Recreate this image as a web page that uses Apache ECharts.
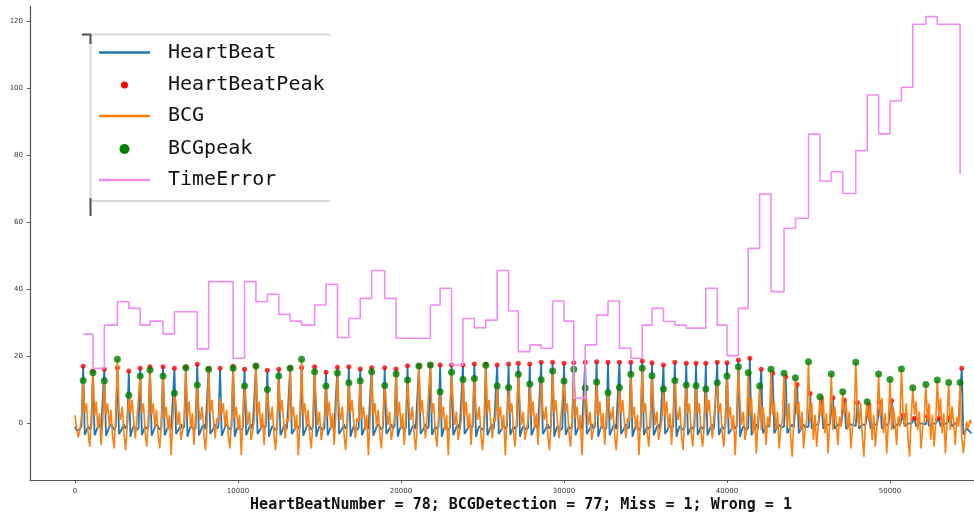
<!DOCTYPE html>
<html>
<head>
<meta charset="utf-8">
<script src="https://cdn.jsdelivr.net/npm/echarts@6/dist/echarts.min.js"></script>
<style>
html, body { margin: 0; padding: 0; background: #fff; }
#chart { width: 974px; height: 515px; }
</style>
</head>
<body>
<div id="chart"></div>
<script>
// Signals are sampled every SAMPLE_STEP units along the x axis, starting at 0.
const SAMPLE_STEP = 100;

const xTicks = [0, 10000, 20000, 30000, 40000, 50000];
const yTicks = [0, 20, 40, 60, 80, 100, 120];

// Reference heartbeat trace (one row per beat, starting at its R peak)
const heartBeat = [
  -1.0, -2.2, -2.6, -1.8, -0.8,
  17.0, -3.5, -2.3, -0.9, -1.7, -1.1,
  15.6, -3.6, -2.4, -1.0, -0.4, -1.8, -1.3,
  16.1, -3.7, -2.5, -1.1, -0.3, -1.0, -1.9, -1.2,
  16.6, -3.2, -2.8, -1.5, -0.2, -1.6, -1.0,
  15.6, -4.0, -2.2, -0.8, -0.9, -2.0, -1.4,
  16.4, -3.5, -2.3, -0.9, -1.7, -1.1,
  16.9, -3.7, -2.5, -1.1, -0.3, -1.0, -1.9, -1.2,
  16.9, -3.6, -2.4, -1.0, -0.4, -1.8, -1.3,
  16.4, -3.2, -2.8, -1.5, -0.2, -1.6, -1.0,
  16.8, -4.0, -2.2, -0.8, -0.9, -2.0, -1.4,
  17.6, -3.6, -2.4, -1.0, -0.4, -1.8, -1.3,
  16.3, -3.2, -2.8, -1.5, -0.2, -1.6, -1.0,
  16.4, -3.7, -2.5, -1.1, -0.3, -1.0, -1.9, -1.2,
  17.0, -4.0, -2.2, -0.8, -0.9, -2.0, -1.4,
  16.1, -3.6, -2.4, -1.0, -0.4, -1.8, -1.3,
  17.0, -3.2, -2.8, -1.5, -0.2, -1.6, -1.0,
  15.8, -4.0, -2.2, -0.8, -0.9, -2.0, -1.4,
  16.1, -3.6, -2.4, -1.0, -0.4, -1.8, -1.3,
  16.6, -3.2, -2.8, -1.5, -0.2, -1.6, -1.0,
  16.6, -3.7, -2.5, -1.1, -0.3, -1.0, -1.9, -1.2,
  16.9, -4.0, -2.2, -0.8, -0.9, -2.0, -1.4,
  15.2, -3.6, -2.4, -1.0, -0.4, -1.8, -1.3,
  16.7, -3.2, -2.8, -1.5, -0.2, -1.6, -1.0,
  16.9, -4.0, -2.2, -0.8, -0.9, -2.0, -1.4,
  16.2, -3.6, -2.4, -1.0, -0.4, -1.8, -1.3,
  16.6, -3.7, -2.5, -1.1, -0.3, -1.0, -1.9, -1.2,
  16.6, -3.2, -2.8, -1.5, -0.2, -1.6, -1.0,
  16.2, -4.0, -2.2, -0.8, -0.9, -2.0, -1.4,
  17.2, -3.6, -2.4, -1.0, -0.4, -1.8, -1.3,
  17.1, -3.2, -2.8, -1.5, -0.2, -1.6, -1.0,
  17.3, -3.5, -2.3, -0.9, -1.7, -1.1,
  17.4, -4.0, -2.2, -0.8, -0.9, -2.0, -1.4,
  17.4, -3.6, -2.4, -1.0, -0.4, -1.8, -1.3,
  17.4, -3.2, -2.8, -1.5, -0.2, -1.6, -1.0,
  17.7, -4.0, -2.2, -0.8, -0.9, -2.0, -1.4,
  17.6, -3.6, -2.4, -1.0, -0.4, -1.8, -1.3,
  17.4, -3.2, -2.8, -1.5, -0.2, -1.6, -1.0,
  17.7, -3.5, -2.3, -0.9, -1.7, -1.1,
  17.9, -4.0, -2.2, -0.8, -0.9, -2.0, -1.4,
  17.7, -3.6, -2.4, -1.0, -0.4, -1.8, -1.3,
  18.2, -3.2, -2.8, -1.5, -0.2, -1.6, -1.0,
  18.2, -4.0, -2.2, -0.8, -0.9, -2.0, -1.4,
  17.9, -3.5, -2.3, -0.9, -1.7, -1.1,
  18.1, -3.6, -2.4, -1.0, -0.4, -1.8, -1.3,
  18.2, -3.2, -2.8, -1.5, -0.2, -1.6, -1.0,
  18.4, -4.0, -2.2, -0.8, -0.9, -2.0, -1.4,
  18.2, -3.6, -2.4, -1.0, -0.4, -1.8, -1.3,
  18.2, -3.2, -2.8, -1.5, -0.2, -1.6, -1.0,
  18.2, -4.0, -2.2, -0.8, -0.9, -2.0, -1.4,
  18.6, -3.5, -2.3, -0.9, -1.7, -1.1,
  18.1, -3.6, -2.4, -1.0, -0.4, -1.8, -1.3,
  17.4, -3.2, -2.8, -1.5, -0.2, -1.6, -1.0,
  18.2, -4.0, -2.2, -0.8, -0.9, -2.0, -1.4,
  17.9, -3.5, -2.3, -0.9, -1.7, -1.1,
  17.9, -3.5, -2.3, -0.9, -1.7, -1.1,
  17.9, -3.6, -2.4, -1.0, -0.4, -1.8, -1.3,
  18.2, -3.5, -2.3, -0.9, -1.7, -1.1,
  18.1, -3.2, -2.8, -1.5, -0.2, -1.6, -1.0,
  18.9, -4.0, -2.2, -0.8, -0.9, -2.0, -1.4,
  19.4, -3.6, -2.4, -1.0, -0.4, -1.8, -1.3,
  16.1, -3.0, -2.0, -1.0, -0.4, -1.2, -1.0,
  15.0, -3.0, -2.0, -1.0, -0.4, -1.2, -0.9, -1.0,
  13.9, -3.0, -2.0, -1.0, -0.4, -1.2, -1.0,
  11.6, -3.0, -2.0, -1.0, -0.4, -1.2, -0.9, -1.0,
  8.9, -1.6, -1.0, -0.3, 0.2, -0.5, -0.8,
  7.4, -1.6, -1.0, -0.3, 0.2, -0.5, -0.8,
  7.6, -1.6, -1.0, -0.3, 0.2, -0.5, -0.8,
  6.9, -1.6, -1.0, -0.3, 0.2, -0.4, -0.7, -0.8,
  6.2, -1.6, -1.0, -0.3, 0.2, -0.5, -0.8,
  5.6, -1.6, -1.0, -0.3, 0.2, -0.5, -0.8,
  6.2, -1.6, -1.0, -0.3, 0.2, -0.5, -0.8,
  6.7, -1.6, -1.0, -0.3, 0.2, -0.5, -0.8,
  2.5, -0.9, -0.5, 0.0, 0.4, -0.1, -0.3,
  1.5, -0.9, -0.5, 0.0, 0.4, -0.1, -0.2, -0.3,
  2.0, -0.9, -0.5, 0.0, 0.4, -0.1, -0.3,
  1.5, -0.9, -0.5, 0.0, 0.4, -0.1, -0.3,
  1.8, -0.9, -0.5, 0.0, 0.4, -0.1, -0.3,
  16.4, -3.4, -2.6, -1.5, -1.0, -2.5, -3.0
];

// BCG trace (one row per beat, starting one sample before the R peak)
const bcg = [
  2.4, -1.5, -4.2, -2.0,
  1.5, 12.8, 3.0, 6.0, -2.5, -7.0,
  1.0, 15.1, 2.0, 6.5, -1.5, 3.0, -6.5,
  0.5, 12.7, 2.5, 6.0, -1.0, 4.0, -3.5, -7.5,
  2.5, 19.1, 4.0, 1.0, 5.0, -3.0, -8.0,
  -1.0, 8.4, 3.0, 7.0, 0.5, -4.5, 1.5,
  1.5, 14.1, 3.0, 6.0, -2.5, -7.0,
  0.5, 15.9, 2.5, 6.0, -1.0, 4.0, -3.5, -7.5,
  0.5, 14.1, 1.5, 5.0, -2.0, 2.5, -9.5,
  1.5, 9.0, 5.5, -0.5, 3.5, -5.0, -2.0,
  1.0, 16.6, 2.0, 6.5, -1.5, 3.0, -6.5,
  2.5, 11.4, 4.0, 1.0, 5.0, -3.0, -8.0,
  -1.0, 16.1, 3.0, 7.0, 0.5, -4.5, 1.5,
  0.5, 7.5, 2.5, 6.0, -1.0, 4.0, -3.5, -7.5,
  0.5, 16.4, 1.5, 5.0, -2.0, 2.5, -9.5,
  1.5, 11.1, 5.5, -0.5, 3.5, -5.0, -2.0,
  1.0, 17.1, 2.0, 6.5, -1.5, 3.0, -6.5,
  2.5, 10.1, 4.0, 1.0, 5.0, -3.0, -8.0,
  -1.0, 14.1, 3.0, 7.0, 0.5, -4.5, 1.5,
  0.5, 16.4, 1.5, 5.0, -2.0, 2.5, -9.5,
  0.5, 19.1, 2.5, 6.0, -1.0, 4.0, -3.5, -7.5,
  1.5, 15.4, 5.5, -0.5, 3.5, -5.0, -2.0,
  1.0, 11.1, 2.0, 6.5, -1.5, 3.0, -6.5,
  2.5, 15.0, 4.0, 1.0, 5.0, -3.0, -8.0,
  -1.0, 12.1, 3.0, 7.0, 0.5, -4.5, 1.5,
  0.5, 12.7, 1.5, 5.0, -2.0, 2.5, -9.5,
  0.5, 15.4, 2.5, 6.0, -1.0, 4.0, -3.5, -7.5,
  1.5, 11.3, 5.5, -0.5, 3.5, -5.0, -2.0,
  1.0, 14.7, 2.0, 6.5, -1.5, 3.0, -6.5,
  2.5, 12.9, 4.0, 1.0, 5.0, -3.0, -8.0,
  -1.0, 17.1, 3.0, 7.0, 0.5, -4.5, 1.5,
  1.5, 17.4, 3.0, 6.0, -2.5, -7.0,
  0.5, 9.4, 1.5, 5.0, -2.0, 2.5, -9.5,
  1.5, 15.2, 5.5, -0.5, 3.5, -5.0, -2.0,
  1.0, 13.1, 2.0, 6.5, -1.5, 3.0, -6.5,
  2.5, 13.4, 4.0, 1.0, 5.0, -3.0, -8.0,
  -1.0, 17.3, 3.0, 7.0, 0.5, -4.5, 1.5,
  0.5, 11.1, 1.5, 5.0, -2.0, 2.5, -9.5,
  1.5, 10.7, 3.0, 6.0, -2.5, -7.0,
  1.5, 14.6, 5.5, -0.5, 3.5, -5.0, -2.0,
  1.0, 11.7, 2.0, 6.5, -1.5, 3.0, -6.5,
  2.5, 13.0, 4.0, 1.0, 5.0, -3.0, -8.0,
  -1.0, 15.6, 3.0, 7.0, 0.5, -4.5, 1.5,
  1.5, 12.6, 3.0, 6.0, -2.5, -7.0,
  0.5, 16.1, 1.5, 5.0, -2.0, 2.5, -9.5,
  1.5, 10.5, 5.5, -0.5, 3.5, -5.0, -2.0,
  1.0, 12.3, 2.0, 6.5, -1.5, 3.0, -6.5,
  2.5, 9.1, 4.0, 1.0, 5.0, -3.0, -8.0,
  -1.0, 10.7, 3.0, 7.0, 0.5, -4.5, 1.5,
  0.5, 14.6, 1.5, 5.0, -2.0, 2.5, -9.5,
  1.5, 16.4, 3.0, 6.0, -2.5, -7.0,
  1.5, 14.2, 5.5, -0.5, 3.5, -5.0, -2.0,
  1.0, 10.2, 2.0, 6.5, -1.5, 3.0, -6.5,
  2.5, 12.8, 4.0, 1.0, 5.0, -3.0, -8.0,
  1.5, 11.4, 3.0, 6.0, -2.5, -7.0,
  1.5, 11.2, 3.0, 6.0, -2.5, -7.0,
  -1.0, 10.2, 3.0, 7.0, 0.5, -4.5, 1.5,
  1.5, 12.1, 3.0, 6.0, -2.5, -7.0,
  0.5, 14.1, 1.5, 5.0, -2.0, 2.5, -9.5,
  1.5, 16.9, 5.5, -0.5, 3.5, -5.0, -2.0,
  15.1, 2.0, 7.5, -3.0, 3.0, -9.0, 0.5,
  11.1, -2.0, 5.0, 1.0, -6.5, 2.0, -1.0,
  16.1, 2.5, 6.5, -2.0, 3.5, -7.5, -1.5, 1.0,
  14.9, 3.5, -1.0, 6.0, -4.0, -10.0, 1.5,
  13.6, 2.5, 6.5, -2.0, 3.5, -7.5, -1.5, 1.0,
  18.4, 0.5, 6.0, -5.0, 2.5, -7.0, -0.5,
  7.9, 2.0, 7.5, -3.0, 3.0, -9.0, 0.5,
  14.7, -2.0, 5.0, 1.0, -6.5, 2.0, -1.0,
  9.4, 2.5, 6.5, -2.0, 3.5, -7.5, -1.5, 1.0,
  18.2, 3.5, -1.0, 6.0, -4.0, -10.0, 1.5,
  6.4, 0.5, 6.0, -5.0, 2.5, -7.0, -0.5,
  14.7, 2.0, 7.5, -3.0, 3.0, -9.0, 0.5,
  13.1, -2.0, 5.0, 1.0, -6.5, 2.0, -1.0,
  16.2, 3.5, -1.0, 6.0, -4.0, -10.0, 1.5,
  10.6, 2.5, 6.5, -2.0, 3.5, -7.5, -1.5, 1.0,
  11.6, 0.5, 6.0, -5.0, 2.5, -7.0, -0.5,
  12.9, 2.0, 7.5, -3.0, 3.0, -9.0, 0.5,
  12.2, -2.0, 5.0, 1.0, -6.5, 2.0, -1.0,
  12.2, -4.0, -9.0, -3.0, 0.5, -1.5, 1.0, 0.0
];

// Heartbeat R-peak positions and amplitudes (78 beats)
const beatTimes = [
  500, 1100, 1800, 2600, 3300, 4000, 4600, 5400, 6100, 6800,
  7500, 8200, 8900, 9700, 10400, 11100, 11800, 12500, 13200, 13900,
  14700, 15400, 16100, 16800, 17500, 18200, 19000, 19700, 20400, 21100,
  21800, 22400, 23100, 23800, 24500, 25200, 25900, 26600, 27200, 27900,
  28600, 29300, 30000, 30600, 31300, 32000, 32700, 33400, 34100, 34800,
  35400, 36100, 36800, 37500, 38100, 38700, 39400, 40000, 40700, 41400,
  42100, 42800, 43600, 44300, 45100, 45800, 46500, 47200, 48000, 48700,
  49400, 50100, 50800, 51500, 52300, 53000, 53700, 54400
];
const beatPeaks = [
  17.0, 15.6, 16.1, 16.6, 15.6, 16.4, 16.9, 16.9, 16.4, 16.8,
  17.6, 16.3, 16.4, 17.0, 16.1, 17.0, 15.8, 16.1, 16.6, 16.6,
  16.9, 15.2, 16.7, 16.9, 16.2, 16.6, 16.6, 16.2, 17.2, 17.1,
  17.3, 17.4, 17.4, 17.4, 17.7, 17.6, 17.4, 17.7, 17.9, 17.7,
  18.2, 18.2, 17.9, 18.1, 18.2, 18.4, 18.2, 18.2, 18.2, 18.6,
  18.1, 17.4, 18.2, 17.9, 17.9, 17.9, 18.2, 18.1, 18.9, 19.4,
  16.1, 15.0, 13.9, 11.6, 8.9, 7.4, 7.6, 6.9, 6.2, 5.6,
  6.2, 6.7, 2.5, 1.5, 2.0, 1.5, 1.8, 16.4
];

// BCG detections (77) with amplitudes and timing error against the heartbeat
const bcgTimes = [
  500, 1100, 1800, 2600, 3300, 4000, 4600, 5400, 6100, 6800,
  7500, 8200, 9700, 10400, 11100, 11800, 12500, 13200, 13900, 14700,
  15400, 16100, 16800, 17500, 18200, 19000, 19700, 20400, 21100, 21800,
  22400, 23100, 23800, 24500, 25200, 25900, 26600, 27200, 27900, 28600,
  29300, 30000, 30600, 31300, 32000, 32700, 33400, 34100, 34800, 35400,
  36100, 36800, 37500, 38100, 38700, 39400, 40000, 40700, 41300, 42000,
  42700, 43500, 44200, 45000, 45700, 46400, 47100, 47900, 48600, 49300,
  50000, 50700, 51400, 52200, 52900, 53600, 54300
];
const bcgPeaks = [
  12.8, 15.1, 12.7, 19.1, 8.4, 14.1, 15.9, 14.1, 9.0, 16.6,
  11.4, 16.1, 16.4, 11.1, 17.1, 10.1, 14.1, 16.4, 19.1, 15.4,
  11.1, 15.0, 12.1, 12.7, 15.4, 11.3, 14.7, 12.9, 17.1, 17.4,
  9.4, 15.2, 13.1, 13.4, 17.3, 11.1, 10.7, 14.6, 11.7, 13.0,
  15.6, 12.6, 16.1, 10.5, 12.3, 9.1, 10.7, 14.6, 16.4, 14.2,
  10.2, 12.8, 11.4, 11.2, 10.2, 12.1, 14.1, 16.9, 15.1, 11.1,
  16.1, 14.9, 13.6, 18.4, 7.9, 14.7, 9.4, 18.2, 6.4, 14.7,
  13.1, 16.2, 10.6, 11.6, 12.9, 12.2, 12.2
];
const timeError = [
  26.6, 16.4, 29.3, 36.3, 34.3, 29.3, 30.5, 26.6, 33.3, 33.3,
  22.2, 42.3, 19.4, 42.3, 36.3, 38.5, 32.5, 30.5, 29.3, 35.3,
  41.5, 25.6, 31.3, 37.3, 45.6, 37.3, 25.4, 25.4, 25.4, 35.3,
  40.3, 17.4, 31.3, 28.5, 30.8, 45.6, 33.5, 21.4, 23.4, 22.4,
  36.5, 30.5, 7.5, 23.4, 32.3, 36.5, 22.4, 19.4, 29.3, 34.3,
  30.4, 29.3, 28.4, 28.4, 40.3, 29.3, 20.2, 34.3, 52.2, 68.4,
  39.3, 58.2, 61.2, 86.3, 72.3, 75.1, 68.6, 81.4, 98.0, 86.4,
  96.2, 100.3, 119.1, 121.4, 119.1, 119.1, 74.4
];

const seriesNames = ['HeartBeat', 'HeartBeatPeak', 'BCG', 'BCGpeak', 'TimeError'];
const summaryText = 'HeartBeatNumber = 78; BCGDetection = 77; Miss = 1; Wrong = 1';

const COLORS = {
  heartBeat: '#1f77b4',
  heartBeatPeak: '#ff0000',
  bcg: '#ff7f0e',
  bcgPeak: '#008000',
  timeError: '#f08ef0'
};

const chart = echarts.init(document.getElementById('chart'), null, { renderer: 'canvas' });

const toSeries = (signal) => signal.map((v, i) => [i * SAMPLE_STEP, v]);
const pair = (xs, ys) => xs.map((x, i) => [x, ys[i]]);

// Legend box drawn in the upper-left corner of the plot
const legendRowsY = [52.5, 85, 116, 149, 180];
const legendGraphics = [
  { type: 'line', shape: { x1: 83, y1: 34.5, x2: 330, y2: 34.5 }, style: { stroke: '#d8d8d8', lineWidth: 2 } },
  { type: 'line', shape: { x1: 90.5, y1: 34, x2: 90.5, y2: 216 }, style: { stroke: '#d8d8d8', lineWidth: 2 } },
  { type: 'line', shape: { x1: 90, y1: 201, x2: 330, y2: 201 }, style: { stroke: '#d8d8d8', lineWidth: 2 } },
  { type: 'line', shape: { x1: 82, y1: 34.5, x2: 91, y2: 34.5 }, style: { stroke: '#555', lineWidth: 2 } },
  { type: 'line', shape: { x1: 90.5, y1: 34, x2: 90.5, y2: 44 }, style: { stroke: '#555', lineWidth: 2 } },
  { type: 'line', shape: { x1: 90.5, y1: 198, x2: 90.5, y2: 216 }, style: { stroke: '#555', lineWidth: 2 } },
  { type: 'line', shape: { x1: 99, y1: legendRowsY[0], x2: 150, y2: legendRowsY[0] }, style: { stroke: COLORS.heartBeat, lineWidth: 2.5 } },
  { type: 'circle', shape: { cx: 124.5, cy: legendRowsY[1], r: 3.5 }, style: { fill: COLORS.heartBeatPeak } },
  { type: 'line', shape: { x1: 99, y1: legendRowsY[2], x2: 150, y2: legendRowsY[2] }, style: { stroke: COLORS.bcg, lineWidth: 2.5 } },
  { type: 'circle', shape: { cx: 124.5, cy: legendRowsY[3], r: 5 }, style: { fill: COLORS.bcgPeak } },
  { type: 'line', shape: { x1: 99, y1: legendRowsY[4], x2: 150, y2: legendRowsY[4] }, style: { stroke: COLORS.timeError, lineWidth: 2.5 } }
].concat(seriesNames.map((name, i) => ({
  type: 'text',
  x: 168,
  y: legendRowsY[i],
  style: {
    text: name,
    font: '20px "DejaVu Sans Mono", monospace',
    fill: '#111',
    align: 'left',
    verticalAlign: 'middle'
  }
})));

legendGraphics.push({
  type: 'text',
  x: 521,
  y: 505,
  style: {
    text: summaryText,
    font: 'bold 15px "DejaVu Sans Mono", monospace',
    fill: '#111',
    align: 'center',
    verticalAlign: 'middle'
  }
});

const axisCommon = {
  type: 'value',
  splitLine: { show: false },
  axisLine: { show: true, onZero: false, lineStyle: { color: '#555', width: 1.2 } }
};

const plainNumber = (v) => String(v);

const option = {
  animation: false,
  backgroundColor: '#fff',
  grid: { left: 30, top: 6, width: 944, height: 474, containLabel: false, outerBoundsMode: 'none' },
  xAxis: Object.assign({}, axisCommon, {
    min: -2761,
    max: 55153,
    axisTick: { show: true, customValues: xTicks, length: 3, lineStyle: { color: '#555' } },
    axisLabel: { customValues: xTicks, formatter: plainNumber, fontSize: 7, color: '#333', margin: 8, fontFamily: 'DejaVu Sans' }
  }),
  yAxis: Object.assign({}, axisCommon, {
    min: -16.93,
    max: 124.56,
    axisTick: { show: true, customValues: yTicks, length: 3, lineStyle: { color: '#555' } },
    axisLabel: { customValues: yTicks, formatter: plainNumber, fontSize: 7, color: '#333', margin: 7, fontFamily: 'DejaVu Sans' }
  }),
  series: [
    {
      name: seriesNames[0], type: 'line', data: toSeries(heartBeat),
      symbol: 'none', lineStyle: { color: COLORS.heartBeat, width: 1.8 }, z: 2
    },
    {
      name: seriesNames[1], type: 'scatter', data: pair(beatTimes, beatPeaks),
      symbol: 'circle', symbolSize: 5, itemStyle: { color: COLORS.heartBeatPeak }, z: 3
    },
    {
      name: seriesNames[2], type: 'line', data: toSeries(bcg),
      symbol: 'none', lineStyle: { color: COLORS.bcg, width: 1.6 }, z: 4
    },
    {
      name: seriesNames[3], type: 'scatter', data: pair(bcgTimes, bcgPeaks),
      symbol: 'circle', symbolSize: 7, itemStyle: { color: COLORS.bcgPeak }, z: 5
    },
    {
      name: seriesNames[4], type: 'line', data: pair(bcgTimes, timeError), step: 'end',
      symbol: 'none', lineStyle: { color: COLORS.timeError, width: 1.6 }, z: 6
    }
  ],
  graphic: legendGraphics
};

chart.setOption(option);
</script>
</body>
</html>
